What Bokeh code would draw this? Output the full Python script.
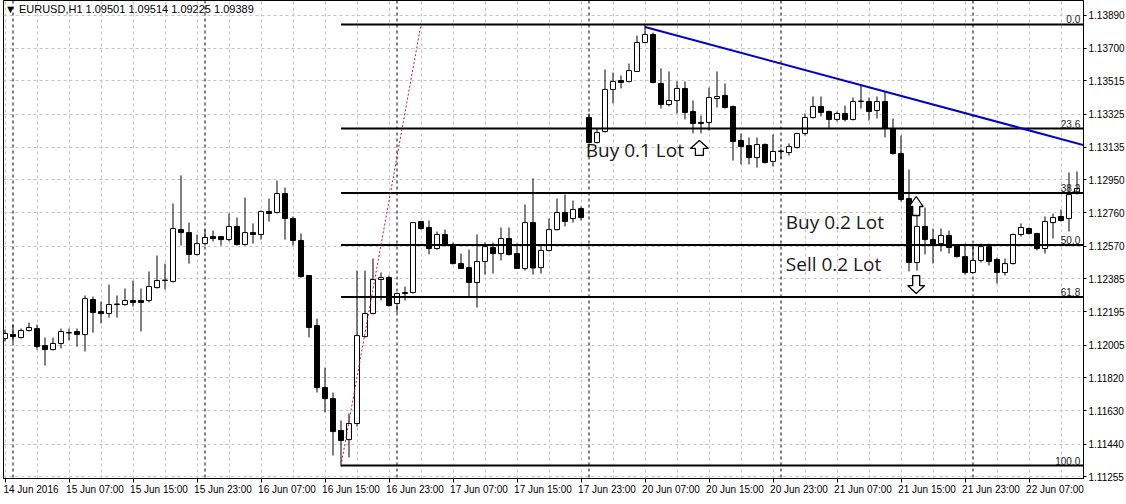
from datetime import datetime, timedelta
from bokeh.plotting import figure
from bokeh.models import ColumnDataSource, FixedTicker, NumeralTickFormatter, Range1d, Span
from bokeh.core.properties import value
from bokeh.embed import file_html
from bokeh.resources import INLINE

# ---------------- data ----------------
# H1 bars (weekend skipped) from 14 Jun 2016 23:00 to 22 Jun 2016 13:00
bar_times = []
t = datetime(2016, 6, 14, 23)
while t <= datetime(2016, 6, 22, 13):
    if t.weekday() < 5:
        bar_times.append(t)
    t += timedelta(hours=1)

opens = [1.12043, 1.12066, 1.12049, 1.12089, 1.12100, 1.12003, 1.11980, 1.12015, 1.12077, 1.12083,
         1.12066, 1.12266, 1.12197, 1.12186, 1.12237, 1.12237, 1.12260, 1.12260, 1.12260, 1.12334,
         1.12374, 1.12369, 1.12665, 1.12648, 1.12523, 1.12585, 1.12625, 1.12625, 1.12608, 1.12683,
         1.12580, 1.12648, 1.12637, 1.12768, 1.12763, 1.12871, 1.12728, 1.12603, 1.12403, 1.12117,
         1.11763, 1.11700, 1.11518, 1.11466, 1.11558, 1.12054, 1.12186, 1.12380, 1.12391, 1.12243,
         1.12300, 1.12306, 1.12711, 1.12677, 1.12557, 1.12637, 1.12580, 1.12471, 1.12448, 1.12363,
         1.12483, 1.12563, 1.12528, 1.12614, 1.12528, 1.12443, 1.12705, 1.12448, 1.12546, 1.12665,
         1.12763, 1.12728, 1.12785, 1.13305, 1.13162, 1.13225, 1.13465, 1.13516, 1.13511, 1.13568,
         1.13733, 1.13779, 1.13499, 1.13379, 1.13402, 1.13471, 1.13339, 1.13277, 1.13277, 1.13413,
         1.13431, 1.13368, 1.13174, 1.13145, 1.13076, 1.13151, 1.13054, 1.13111, 1.13105, 1.13134,
         1.13214, 1.13305, 1.13368, 1.13339, 1.13294, 1.13328, 1.13294, 1.13396, 1.13396, 1.13345,
         1.13396, 1.13242, 1.13099, 1.12842, 1.12477, 1.12683, 1.12608, 1.12585, 1.12631, 1.12574,
         1.12511, 1.12420, 1.12489, 1.12568, 1.12494, 1.12420, 1.12471, 1.12637, 1.12671, 1.12643,
         1.12557, 1.12705, 1.12740, 1.12728, 1.12871]
highs = [1.12094, 1.12123, 1.12100, 1.12134, 1.12123, 1.12049, 1.12049, 1.12100, 1.12100, 1.12100,
         1.12289, 1.12283, 1.12254, 1.12351, 1.12289, 1.12329, 1.12374, 1.12329, 1.12426, 1.12517,
         1.12471, 1.12814, 1.12974, 1.12705, 1.12637, 1.12665, 1.12660, 1.12627, 1.12757, 1.12734,
         1.12848, 1.12700, 1.12774, 1.12842, 1.12945, 1.12905, 1.12740, 1.12643, 1.12405, 1.12157,
         1.11877, 1.11735, 1.11575, 1.11615, 1.12431, 1.12431, 1.12500, 1.12420, 1.12403, 1.12306,
         1.12340, 1.12708, 1.12711, 1.12717, 1.12654, 1.12665, 1.12591, 1.12528, 1.12551, 1.12637,
         1.12591, 1.12591, 1.12677, 1.12677, 1.12585, 1.12808, 1.12957, 1.12580, 1.12728, 1.12842,
         1.12865, 1.12831, 1.12797, 1.13328, 1.13242, 1.13579, 1.13562, 1.13545, 1.13613, 1.13773,
         1.13836, 1.13790, 1.13585, 1.13568, 1.13511, 1.13511, 1.13402, 1.13316, 1.13476, 1.13568,
         1.13499, 1.13373, 1.13214, 1.13191, 1.13191, 1.13157, 1.13208, 1.13128, 1.13157, 1.13217,
         1.13328, 1.13425, 1.13425, 1.13345, 1.13339, 1.13373, 1.13419, 1.13488, 1.13419, 1.13425,
         1.13453, 1.13299, 1.13202, 1.13008, 1.12803, 1.12791, 1.12671, 1.12671, 1.12660, 1.12577,
         1.12585, 1.12580, 1.12585, 1.12585, 1.12506, 1.12500, 1.12643, 1.12700, 1.12677, 1.12646,
         1.12740, 1.12757, 1.12780, 1.12991, 1.12997]
lows = [1.12026, 1.12020, 1.12043, 1.12083, 1.11980, 1.11889, 1.11975, 1.11986, 1.12032, 1.11997,
        1.11969, 1.12077, 1.12129, 1.12163, 1.12163, 1.12231, 1.12226, 1.12083, 1.12249, 1.12329,
        1.12323, 1.12363, 1.12574, 1.12471, 1.12517, 1.12574, 1.12597, 1.12574, 1.12597, 1.12574,
        1.12574, 1.12585, 1.12608, 1.12711, 1.12757, 1.12608, 1.12574, 1.12391, 1.12049, 1.11735,
        1.11621, 1.11375, 1.11312, 1.11364, 1.11541, 1.12049, 1.12180, 1.12260, 1.12226, 1.12192,
        1.12260, 1.12300, 1.12665, 1.12523, 1.12551, 1.12568, 1.12466, 1.12440, 1.12277, 1.12220,
        1.12408, 1.12414, 1.12489, 1.12517, 1.12440, 1.12431, 1.12408, 1.12414, 1.12540, 1.12660,
        1.12683, 1.12705, 1.12717, 1.13157, 1.13157, 1.13219, 1.13385, 1.13471, 1.13505, 1.13568,
        1.13730, 1.13500, 1.13356, 1.13368, 1.13328, 1.13294, 1.13214, 1.13214, 1.13231, 1.13362,
        1.13356, 1.13059, 1.13037, 1.13037, 1.13019, 1.13042, 1.13025, 1.13071, 1.13088, 1.13128,
        1.13202, 1.13299, 1.13311, 1.13242, 1.13282, 1.13282, 1.13288, 1.13356, 1.13288, 1.13299,
        1.13191, 1.13094, 1.12825, 1.12426, 1.12431, 1.12523, 1.12471, 1.12540, 1.12528, 1.12506,
        1.12408, 1.12414, 1.12477, 1.12460, 1.12357, 1.12403, 1.12466, 1.12625, 1.12637, 1.12546,
        1.12528, 1.12614, 1.12711, 1.12654, 1.12865]
closes = [1.12072, 1.12054, 1.12089, 1.12106, 1.11997, 1.11980, 1.12015, 1.12083, 1.12075, 1.12066,
          1.12271, 1.12192, 1.12186, 1.12237, 1.12240, 1.12260, 1.12249, 1.12249, 1.12340, 1.12374,
          1.12377, 1.12671, 1.12648, 1.12523, 1.12585, 1.12620, 1.12614, 1.12608, 1.12683, 1.12580,
          1.12648, 1.12637, 1.12768, 1.12757, 1.12871, 1.12728, 1.12603, 1.12397, 1.12106, 1.11763,
          1.11700, 1.11512, 1.11461, 1.11558, 1.12060, 1.12186, 1.12380, 1.12391, 1.12231, 1.12300,
          1.12306, 1.12705, 1.12671, 1.12557, 1.12637, 1.12574, 1.12471, 1.12443, 1.12363, 1.12483,
          1.12568, 1.12528, 1.12614, 1.12523, 1.12443, 1.12705, 1.12446, 1.12546, 1.12665, 1.12763,
          1.12711, 1.12780, 1.12734, 1.13162, 1.13219, 1.13465, 1.13511, 1.13505, 1.13573, 1.13733,
          1.13779, 1.13505, 1.13379, 1.13402, 1.13471, 1.13334, 1.13271, 1.13271, 1.13419, 1.13425,
          1.13362, 1.13168, 1.13139, 1.13076, 1.13151, 1.13048, 1.13111, 1.13114, 1.13139, 1.13214,
          1.13305, 1.13368, 1.13334, 1.13294, 1.13328, 1.13294, 1.13396, 1.13399, 1.13339, 1.13396,
          1.13242, 1.13099, 1.12837, 1.12477, 1.12683, 1.12608, 1.12580, 1.12631, 1.12563, 1.12511,
          1.12420, 1.12489, 1.12568, 1.12483, 1.12420, 1.12471, 1.12637, 1.12677, 1.12643, 1.12557,
          1.12711, 1.12734, 1.12717, 1.12865, 1.12900]

price_ticks = [1.13890, 1.13700, 1.13515, 1.13325, 1.13135, 1.12950, 1.12760, 1.12570,
               1.12385, 1.12195, 1.12005, 1.11820, 1.11630, 1.11440, 1.11255]

tick_labels = ["14 Jun 2016", "15 Jun 07:00", "15 Jun 15:00", "15 Jun 23:00", "16 Jun 07:00",
               "16 Jun 15:00", "16 Jun 23:00", "17 Jun 07:00", "17 Jun 15:00", "17 Jun 23:00",
               "20 Jun 07:00", "20 Jun 15:00", "20 Jun 23:00", "21 Jun 07:00", "21 Jun 15:00",
               "21 Jun 23:00", "22 Jun 07:00"]
tick_times = [datetime(2016, 6, 14, 23), datetime(2016, 6, 15, 7), datetime(2016, 6, 15, 15),
              datetime(2016, 6, 15, 23), datetime(2016, 6, 16, 7), datetime(2016, 6, 16, 15),
              datetime(2016, 6, 16, 23), datetime(2016, 6, 17, 7), datetime(2016, 6, 17, 15),
              datetime(2016, 6, 17, 23), datetime(2016, 6, 20, 7), datetime(2016, 6, 20, 15),
              datetime(2016, 6, 20, 23), datetime(2016, 6, 21, 7), datetime(2016, 6, 21, 15),
              datetime(2016, 6, 21, 23), datetime(2016, 6, 22, 7)]

# Fibonacci retracement (anchored on the 16 Jun low and the 20 Jun high)
fib_levels = [0.0, 23.6, 38.2, 50.0, 61.8, 100.0]
fib_high = 1.13836
fib_low = 1.11318
fib_low_time = datetime(2016, 6, 16, 17)
fib_high_time = datetime(2016, 6, 17, 3)

# descending trend line through two highs
trend_times = [datetime(2016, 6, 20, 7), datetime(2016, 6, 21, 13)]
trend_prices = [1.13822, 1.13453]

header = "\u25bc EURUSD,H1  1.09501 1.09514 1.09225 1.09389"

# trade notes
notes_text = ["Buy 0.1 Lot", "Buy 0.2 Lot", "Sell 0.2 Lot"]
notes_x = [72.6, 97.6, 97.6]
notes_y = [1.13117, 1.12711, 1.12471]

# arrow objects: (bar, price of the tip, direction)
arrow_x = [86.8, 113.9, 113.9]
arrow_y = [1.13174, 1.12854, 1.12300]
arrow_dir = ["up", "up", "down"]

# ---------------- figure ----------------
PX_X = 8.0            # pixels per bar
PX_Y = 1.0 / 0.0000571  # pixels per price unit
X0, X1 = -0.1875, 134.8125
Y0, Y1 = 1.11244, 1.13973

p = figure(frame_width=1080, frame_height=478,
           x_range=Range1d(X0, X1), y_range=Range1d(Y0, Y1),
           y_axis_location="right", toolbar_location=None, output_backend="svg",
           min_border_left=3, min_border_top=0, min_border_right=0, min_border_bottom=0,
           background_fill_color="white", border_fill_color="white",
           outline_line_color="black", outline_line_width=1)

idx = list(range(len(bar_times)))
tick_pos = [bar_times.index(tt) for tt in tick_times]
label_pos = [tp + 3.25 for tp in tick_pos]

xa = p.xaxis[0]
xa.ticker = FixedTicker(ticks=label_pos, minor_ticks=tick_pos)
xa.major_label_overrides = {lp: lab for lp, lab in zip(label_pos, tick_labels)}
xa.major_tick_line_color = None
xa.major_tick_out = 0
xa.major_tick_in = 0
xa.minor_tick_line_color = "black"
xa.minor_tick_in = 0
xa.minor_tick_out = 4
xa.major_label_standoff = 1
xa.axis_line_color = "black"
xa.major_label_text_font = "Liberation Sans"
xa.major_label_text_font_size = "10px"
xa.major_label_text_color = "black"

ya = p.yaxis[0]
ya.ticker = FixedTicker(ticks=price_ticks)
ya.formatter = NumeralTickFormatter(format="0.00000")
ya.major_tick_out = 3
ya.major_tick_in = 0
ya.minor_tick_line_color = None
ya.major_label_standoff = 2
ya.axis_line_color = "black"
ya.major_label_text_font = "Liberation Sans"
ya.major_label_text_font_size = "10px"
ya.major_label_text_color = "black"

p.xgrid.ticker = FixedTicker(ticks=list(range(0, len(bar_times), 4)))
for g in (p.xgrid[0], p.ygrid[0]):
    g.grid_line_color = "#c4c4c4"
    g.grid_line_dash = "3 3"
    g.grid_line_width = 1

# day separators
for i, bt in enumerate(bar_times):
    if bt.hour == 0:
        p.add_layout(Span(location=i, dimension="height", line_color="black",
                          line_dash="3 3", line_width=1, level="underlay"))

# candles
bull = [c >= o for o, c in zip(opens, closes)]
src = ColumnDataSource(dict(
    x=idx, high=highs, low=lows,
    top=[max(o, c) for o, c in zip(opens, closes)],
    bottom=[min(o, c) for o, c in zip(opens, closes)],
    fill=["white" if b else "black" for b in bull],
))
p.segment(x0="x", y0="high", x1="x", y1="low", source=src, line_color="black", line_width=1)
p.vbar(x="x", width=0.62, top="top", bottom="bottom", source=src,
       fill_color="fill", line_color="black", line_width=1)

# Fibonacci retracement
fib_start = bar_times.index(fib_low_time)
fib_end = bar_times.index(fib_high_time)
fib_prices = [fib_high - lv / 100.0 * (fib_high - fib_low) for lv in fib_levels]
p.segment(x0=[fib_start] * len(fib_prices), y0=fib_prices,
          x1=[X1 + 5] * len(fib_prices), y1=fib_prices,
          line_color="black", line_width=2)
p.line(x=[fib_start, fib_end], y=[fib_low, fib_high], line_color="#c01840",
       line_width=1, line_dash="2 2")
p.text(x=[134.4] * len(fib_levels), y=fib_prices, text=["%.1f" % lv for lv in fib_levels],
       text_align="right", text_baseline="bottom", y_offset=-1,
       text_font=value("Liberation Sans"), text_font_size="10px", text_color="#202020")

# trend line (ray to the right)
tx = [bar_times.index(tt) for tt in trend_times]
slope = (trend_prices[1] - trend_prices[0]) / (tx[1] - tx[0])
p.line(x=[tx[0], X1 + 5], y=[trend_prices[0], trend_prices[0] + slope * (X1 + 5 - tx[0])],
       line_color="#0000d0", line_width=2)

# trade notes
p.text(x=notes_x, y=notes_y, text=notes_text, text_align="left", text_baseline="middle",
       text_font=value("Open Sans"), text_font_size="19px", text_color="#1a1a1a")

# outline block arrows (shape sizes in pixels: head width, head height, shaft width, total height)
arrow_shape = [(18, 8, 8, 15), (14, 10, 7, 19), (17, 8, 7, 18)]
axs, ays = [], []
for (ax, ay, d), (W, Hh, S, H) in zip(zip(arrow_x, arrow_y, arrow_dir), arrow_shape):
    pts = [(0, 0), (W / 2, Hh), (S / 2, Hh), (S / 2, H), (-S / 2, H), (-S / 2, Hh), (-W / 2, Hh)]
    sgn = -1 if d == "up" else 1
    axs.append([ax + dx / PX_X for dx, dy in pts])
    ays.append([ay + sgn * dy / PX_Y for dx, dy in pts])
p.patches(xs=axs, ys=ays, fill_color="white", line_color="black", line_width=1.3)

# header
p.text(x=[0.0], y=[1.13927], text=[header], text_align="left", text_baseline="middle",
       text_font=value("Liberation Sans"), text_font_size="11px", text_color="black")

open("out.html", "w").write(file_html(p, INLINE))
